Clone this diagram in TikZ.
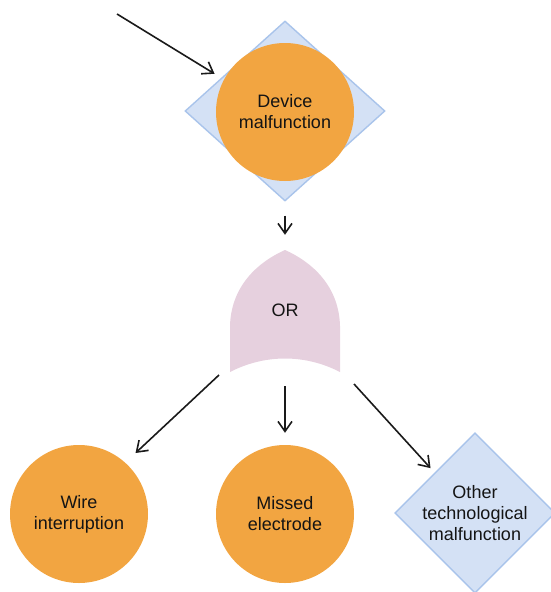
\documentclass[tikz,border=0pt]{standalone}
\usepackage{fontspec}
\setmainfont{Liberation Sans}
\usetikzlibrary{shapes.geometric,arrows.meta}
\definecolor{evorange}{HTML}{F2A541}
\definecolor{evblue}{HTML}{D4E1F5}
\definecolor{evblueline}{HTML}{A9C4EB}
\definecolor{gatepink}{HTML}{E6D0DE}
\definecolor{inktext}{HTML}{141414}
\definecolor{inkline}{HTML}{1A1A1A}
\tikzset{
  basic/.style={shape=circle, fill=evorange, draw=none, minimum size=138pt, inner sep=0pt,
    align=center, text=inktext, font=\fontsize{18}{21}\selectfont},
  undev/.style={shape=diamond, fill=evblue, draw=evblueline, line width=1.4pt, inner sep=0pt,
    align=center, text=inktext, font=\fontsize{18}{21}\selectfont},
  link/.style={draw=inkline, line width=1.6pt, -{Straight Barb[length=10pt,width=14pt,line width=1.6pt]}},
}
\begin{document}
\begin{tikzpicture}[x=1pt, y=-1pt]
\useasboundingbox (0,0) rectangle (550,592);

% top event: diamond behind the basic-event circle
\node[undev, minimum width=200pt, minimum height=180pt] (topdia) at (285,111) {};
\node[basic] (device) at (285,112) {Device\\malfunction};
\coordinate (feed) at (117,14);

% OR gate
\fill[gatepink] (285,250) .. controls (258,262) and (231,286) .. (230,326)
  -- (230,372) .. controls (265,354) and (305,354) .. (340,372)
  -- (340,326) .. controls (339,286) and (312,262) .. (285,250) -- cycle;
\node[minimum width=110pt, minimum height=122pt, inner sep=0pt] (orgate) at (285,311) {};
\node[text=inktext, font=\fontsize{18}{21}\selectfont] (orlabel) at (285,310) {OR};
\coordinate (orleft) at (219,375);
\coordinate (ormid) at (285,386);
\coordinate (orright) at (354,384);

% lower events
\node[basic] (wire) at (79,514) {Wire\\interruption};
\node[basic] (missed) at (285,514) {Missed\\electrode};
\node[undev, minimum width=152pt, minimum height=152pt] (other) at (475,513) {Other\\technological\\malfunction};

% connectors
\draw[link, shorten >=11pt] (feed) -- (device.152);
\draw[link, shorten <=14pt, shorten >=15pt] (topdia.south) -- (orgate.north);
\draw[link, shorten >=14pt] (orleft) -- (wire.48);
\draw[link, shorten >=12pt] (ormid) -- (missed.north);
\draw[link, shorten >=6pt] (orright) -- (other.north west);
\end{tikzpicture}
\end{document}
